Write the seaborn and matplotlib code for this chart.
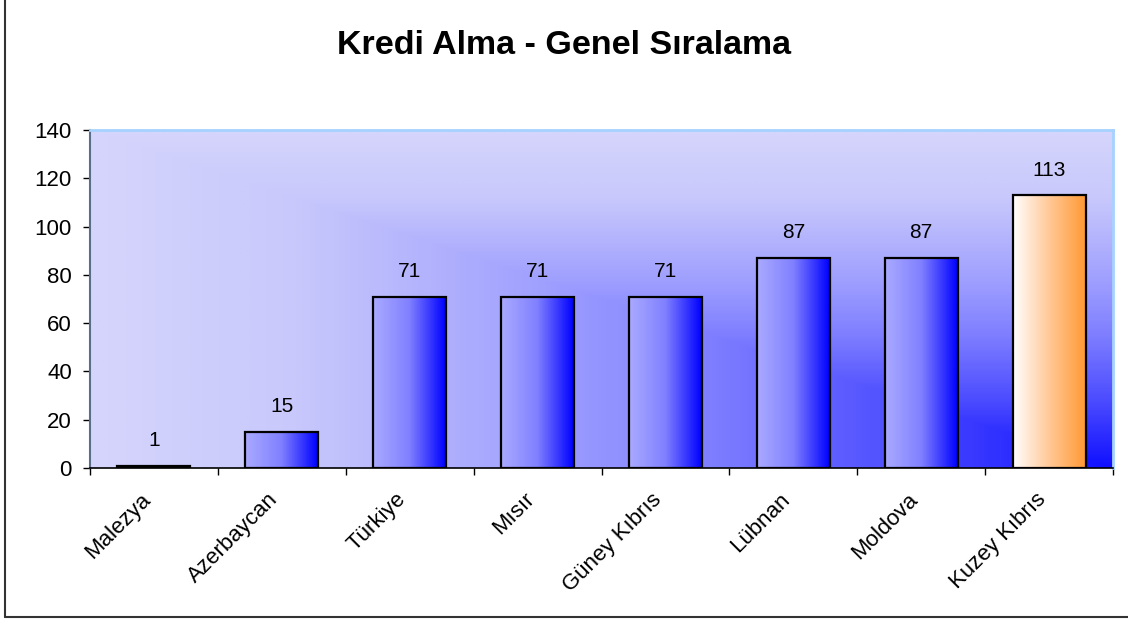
import numpy as np
import pandas as pd
import matplotlib.pyplot as plt
import matplotlib.transforms as mtransforms
from matplotlib.colors import LinearSegmentedColormap
from matplotlib.lines import Line2D
import seaborn as sns

countries = ['Malezya', 'Azerbaycan', 'Türkiye', 'Mısır', 'Güney Kıbrıs',
             'Lübnan', 'Moldova', 'Kuzey Kıbrıs']
ranks = [1, 15, 71, 71, 71, 87, 87, 113]
highlight = 'Kuzey Kıbrıs'

df = pd.DataFrame({'country': countries, 'rank': ranks})

sns.set_style("white")
plt.rcParams['font.family'] = ['Liberation Sans', 'DejaVu Sans']
plt.rcParams['text.color'] = 'black'
plt.rcParams['xtick.color'] = 'black'
plt.rcParams['ytick.color'] = 'black'

fig = plt.figure(figsize=(11.28, 6.2), dpi=100)
ax = fig.add_axes([90 / 1128, 1 - 468 / 620, 1023 / 1128, 338 / 620])

ax = sns.barplot(x='country', y='rank', data=df, color='#8888ff', width=0.57,
                 edgecolor='black', linewidth=1.6, ax=ax, zorder=3)
ax.set_xlim(-0.5, len(countries) - 0.5)

# plot area background: corner gradient (light top-left -> blue bottom-right)
n = 300
u = np.linspace(0, 1, n)
uu, vv = np.meshgrid(u, u)
t = np.minimum(uu, vv)
bg_cmap = LinearSegmentedColormap.from_list(
    'bg', [(0, '#d5d5fc'), (0.2, '#c8c8fc'), (0.45, '#9e9eff'),
           (0.6, '#8080ff'), (0.8, '#4c4cff'), (1, '#1010ff')])
ax.imshow(t, cmap=bg_cmap, extent=(-0.5, len(countries) - 0.5, 0, 140),
          origin='upper', aspect='auto', zorder=0, interpolation='bilinear')

# bar fills: horizontal gradients clipped to each bar
blue_cmap = LinearSegmentedColormap.from_list('barblue', ['#aaaaff', '#8080ff', '#0000ff'])
orange_cmap = LinearSegmentedColormap.from_list('barorange', ['#ffffff', '#ffc896', '#ff9933'])
grad = np.linspace(0, 1, 256).reshape(1, -1)
for patch, name in zip(ax.patches, countries):
    x0, y0 = patch.get_x(), patch.get_y()
    w, h = patch.get_width(), patch.get_height()
    cm = orange_cmap if name == highlight else blue_cmap
    im = ax.imshow(grad, cmap=cm, extent=(x0, x0 + w, y0, y0 + h),
                   aspect='auto', zorder=2, interpolation='bilinear')
    im.set_clip_path(patch)
    patch.set_facecolor('none')

ax.set_xlim(-0.5, len(countries) - 0.5)
ax.set_ylim(0, 140)

# value labels
for i, v in enumerate(ranks):
    ax.annotate(str(v), (i, v), xytext=(0, 18), textcoords='offset points',
                ha='center', va='center', fontsize=15, color='black')

# ticks
ax.set_yticks(range(0, 141, 20))
ax.tick_params(axis='y', which='major', direction='out', length=5, width=1,
               color='black', labelsize=16, pad=8, left=True)
ax.set_xticks(range(len(countries)))
ax.set_xticklabels(countries, rotation=45, ha='right', va='top',
                   rotation_mode='anchor', fontsize=16)
ax.set_xticks(np.arange(-0.5, len(countries)), minor=True)
ax.tick_params(axis='x', which='major', length=0, pad=15)
ax.tick_params(axis='x', which='minor', direction='out', length=5, width=1,
               color='black', bottom=True)
offset = mtransforms.ScaledTranslation(-14 / 100, 0, fig.dpi_scale_trans)
for lbl in ax.get_xticklabels():
    lbl.set_transform(lbl.get_transform() + offset)

ax.set_xlabel('')
ax.set_ylabel('')

for side in ['top', 'right']:
    ax.spines[side].set_color('#a6d2ff')
    ax.spines[side].set_linewidth(2)
    ax.spines[side].set_visible(True)
ax.spines['left'].set_color('#5a6e8c')
ax.spines['left'].set_linewidth(1.5)
ax.spines['bottom'].set_color('black')
ax.spines['bottom'].set_linewidth(1.2)

fig.text(0.5, 1 - 45 / 620, 'Kredi Alma - Genel Sıralama', ha='center',
         va='center', fontsize=24.5, fontweight='bold')

# outer chart frame (left and bottom visible in the crop)
fig.add_artist(Line2D([5 / 1128, 5 / 1128], [1 - 617 / 620, 1], color='#333333', lw=1.5))
fig.add_artist(Line2D([5 / 1128, 1], [1 - 617 / 620, 1 - 617 / 620], color='#333333', lw=1.5))

plt.savefig('out.png', dpi=100)
